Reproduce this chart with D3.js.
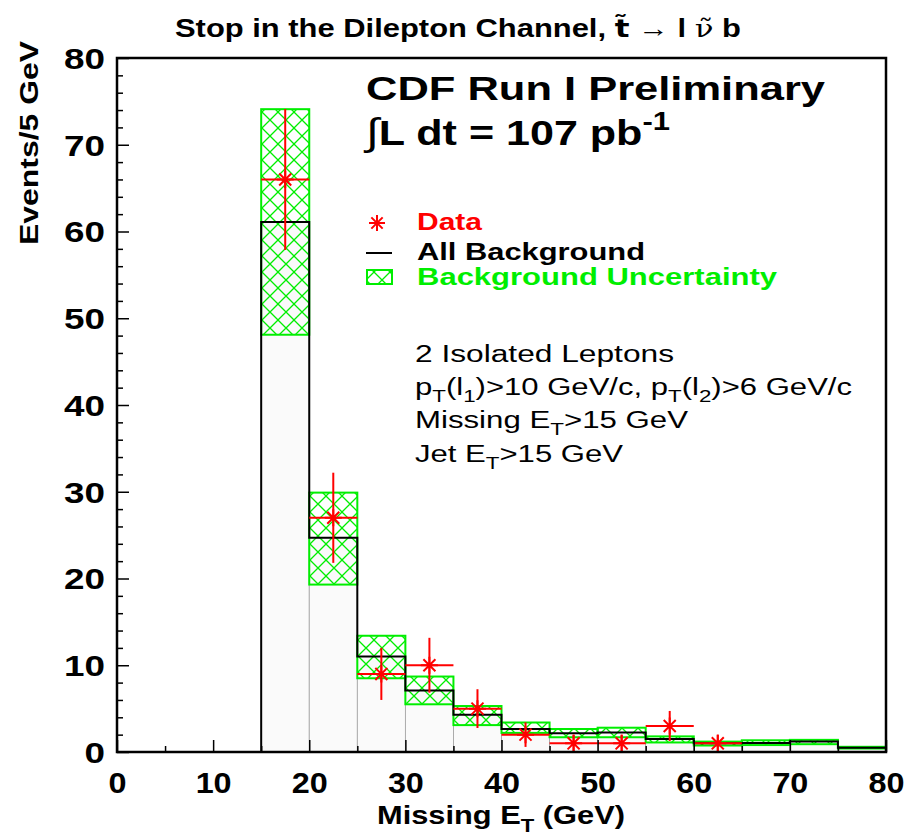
<!DOCTYPE html>
<html>
<head>
<meta charset="utf-8">
<script src="https://cdn.jsdelivr.net/npm/d3@7"></script>
<style>
  html, body { margin: 0; padding: 0; background: #fff; }
  svg { display: block; }
  text { font-family: "Liberation Sans", Arial, Helvetica, sans-serif; }
</style>
</head>
<body>
<svg id="chart" width="910" height="837"></svg>
<script>
// Missing E_T bins, 5 GeV wide, from 0 to 80 GeV
const binLow = [0, 5, 10, 15, 20, 25, 30, 35, 40, 45, 50, 55, 60, 65, 70, 75];
const binWidth = 5;
// Total expected background per bin
const background = [0, 0, 0, 61.1, 24.7, 11.0, 7.1, 4.3, 2.65, 2.15, 2.25, 1.5, 1.0, 1.05, 1.2, 0.5];
// Background uncertainty band (lower / upper edge)
const bandLow  = [0, 0, 0, 48.1, 19.3, 8.5, 5.5, 3.1, 2.2, 1.7, 1.7, 1.1, 0.75, 0.8, 0.9, 0.4];
const bandHigh = [0, 0, 0, 74.1, 29.9, 13.4, 8.7, 5.3, 3.4, 2.65, 2.8, 1.8, 1.2, 1.35, 1.4, 0.6];
// Observed events (null = not drawn)
const observed = [null, null, null, 66, 27, 9, 10, 5, 2, 1, 1, 3, 1, 0, 0, null];
// Axis ticks
const xMajorTicks = [0, 10, 20, 30, 40, 50, 60, 70, 80];
const xMinorTicks = [5, 15, 25, 35, 45, 55, 65, 75];
const yMajorTicks = [0, 10, 20, 30, 40, 50, 60, 70, 80];
const yMinorTicks = [2, 4, 6, 8, 12, 14, 16, 18, 22, 24, 26, 28, 32, 34, 36, 38, 42, 44, 46, 48, 52, 54, 56, 58, 62, 64, 66, 68, 72, 74, 76, 78];

const RED = "#ff0000", GREEN = "#00ee00", BLACK = "#000";

const svg = d3.select("#chart");
const plotL = 117, plotR = 886, plotT = 58, plotB = 752;
const x = d3.scaleLinear().domain([0, 80]).range([plotL, plotR]);
const y = d3.scaleLinear().domain([0, 80]).range([plotB, plotT]);

const defs = svg.append("defs");
const pat = defs.append("pattern")
  .attr("id", "hatch").attr("patternUnits", "userSpaceOnUse")
  .attr("width", 16).attr("height", 16).attr("x", plotL + 1).attr("y", 0);
pat.append("path").attr("d", "M0,0 L16,16 M0,16 L16,0 M-1,1 L1,-1 M15,17 L17,15 M-1,15 L1,17 M15,-1 L17,1")
  .attr("stroke", GREEN).attr("stroke-width", 1.3).attr("fill", "none");
defs.append("clipPath").attr("id", "plotclip")
  .append("rect").attr("x", plotL).attr("y", plotT).attr("width", plotR - plotL).attr("height", plotB - plotT);

// Rich text helper: segments with optional sub/sup, weight and font
function richText(parent, px, py, segs, opts) {
  const t = parent.append("text").attr("x", px).attr("y", py)
    .attr("font-size", opts.size).attr("font-weight", opts.weight || "normal")
    .attr("fill", opts.fill || BLACK);
  if (opts.anchor) t.attr("text-anchor", opts.anchor);
  if (opts.transform) t.attr("transform", opts.transform);
  let shift = 0;
  segs.forEach(s => {
    const sp = t.append("tspan").text(s.t);
    let target = 0;
    let fs = opts.size;
    if (s.sub) { target = opts.size * 0.32; fs = opts.size * 0.72; }
    if (s.sup) { target = -opts.size * 0.42; fs = opts.size * 0.72; }
    if (s.size) fs = s.size;
    sp.attr("font-size", fs);
    if (target - shift !== 0) sp.attr("dy", target - shift);
    shift = target;
    if (s.weight) sp.attr("font-weight", s.weight);
    if (s.family) sp.attr("font-family", s.family);
  });
  if (opts.width) t.attr("textLength", opts.width).attr("lengthAdjust", "spacingAndGlyphs");
  return t;
}

// Plot area
const plot = svg.append("g").attr("clip-path", "url(#plotclip)");

// Light fill under the background histogram
plot.selectAll("rect.fill").data(binLow.map((b, i) => ({ b, v: background[i] })).filter(d => d.v > 0))
  .enter().append("rect")
  .attr("x", d => x(d.b)).attr("width", d => x(d.b + binWidth) - x(d.b))
  .attr("y", d => y(d.v)).attr("height", d => y(0) - y(d.v))
  .attr("fill", "#fafafa").attr("stroke", "#a0a0a0").attr("stroke-width", 0.8);

// Uncertainty band
plot.selectAll("rect.band").data(binLow.map((b, i) => ({ b, lo: bandLow[i], hi: bandHigh[i] })).filter(d => d.hi > 0))
  .enter().append("rect")
  .attr("x", d => x(d.b)).attr("width", d => x(d.b + binWidth) - x(d.b))
  .attr("y", d => y(d.hi)).attr("height", d => Math.max(1, y(d.lo) - y(d.hi)))
  .attr("fill", "url(#hatch)").attr("stroke", GREEN).attr("stroke-width", 2);

// Background histogram outline
const stepPts = binLow.map((b, i) => [b, background[i]]).concat([[80, background[background.length - 1]]]);
plot.append("path")
  .attr("d", d3.line().x(d => x(d[0])).y(d => y(d[1])).curve(d3.curveStepAfter)(stepPts))
  .attr("fill", "none").attr("stroke", BLACK).attr("stroke-width", 2);

// Data points with errors
function star(g, cx, cy, r) {
  const a = r * Math.SQRT1_2;
  g.append("path")
    .attr("d", `M${cx - r},${cy}L${cx + r},${cy}M${cx},${cy - r}L${cx},${cy + r}M${cx - a},${cy - a}L${cx + a},${cy + a}M${cx - a},${cy + a}L${cx + a},${cy - a}`)
    .attr("stroke", RED).attr("stroke-width", 2).attr("fill", "none");
}
const dataG = plot.append("g");
binLow.forEach((b, i) => {
  const v = observed[i];
  if (v === null) return;
  const cx = x(b + binWidth / 2);
  dataG.append("line").attr("x1", x(b)).attr("x2", x(b + binWidth))
    .attr("y1", y(v)).attr("y2", y(v)).attr("stroke", RED).attr("stroke-width", 2);
  if (v > 0) {
    const e = Math.sqrt(v);
    dataG.append("line").attr("x1", cx).attr("x2", cx)
      .attr("y1", y(v + e)).attr("y2", y(Math.max(0, v - e))).attr("stroke", RED).attr("stroke-width", 2);
    star(dataG, cx, y(v), 8.5);
  }
});

// Axes
const yMajor = svg.append("g").attr("transform", `translate(${plotL},0)`)
  .call(d3.axisLeft(y).tickValues(yMajorTicks).tickSizeInner(-12).tickSizeOuter(0).tickPadding(12).tickFormat(d3.format("d")));
const yMinor = svg.append("g").attr("transform", `translate(${plotL},0)`)
  .call(d3.axisLeft(y).tickValues(yMinorTicks).tickSizeInner(-6).tickSizeOuter(0).tickFormat(""));
const xMajor = svg.append("g").attr("transform", `translate(0,${plotB})`)
  .call(d3.axisBottom(x).tickValues(xMajorTicks).tickSizeInner(-12).tickSizeOuter(0).tickFormat(d3.format("d")));
const xMinor = svg.append("g").attr("transform", `translate(0,${plotB})`)
  .call(d3.axisBottom(x).tickValues(xMinorTicks).tickSizeInner(-6).tickSizeOuter(0).tickFormat(""));
[yMajor, yMinor, xMajor, xMinor].forEach(g => {
  g.select(".domain").remove();
  g.selectAll(".tick line").attr("stroke", BLACK).attr("stroke-width", 1.5);
});
yMajor.selectAll("text")
  .attr("font-family", "Liberation Sans, Arial, sans-serif")
  .attr("font-size", 29).attr("font-weight", "bold").attr("fill", BLACK)
  .attr("dy", "0.36em")
  .each(function (d) { d3.select(this).attr("textLength", String(d).length * 20.5).attr("lengthAdjust", "spacingAndGlyphs"); });
xMajor.selectAll("text")
  .attr("font-family", "Liberation Sans, Arial, sans-serif")
  .attr("font-size", 30).attr("font-weight", "bold").attr("fill", BLACK)
  .attr("y", 41).attr("dy", 0)
  .each(function (d) { d3.select(this).attr("textLength", String(d).length * 18).attr("lengthAdjust", "spacingAndGlyphs"); });

// Frame
svg.append("rect").attr("x", plotL).attr("y", plotT).attr("width", plotR - plotL).attr("height", plotB - plotT)
  .attr("fill", "none").attr("stroke", BLACK).attr("stroke-width", 2.5);

// Title
richText(svg, 175, 37, [
  { t: "Stop in the Dilepton Channel, " },
  { t: "t\u0303", weight: "bold", family: "DejaVu Sans" },
  { t: " \u2192 ", weight: "normal" },
  { t: "l ", weight: "bold" },
  { t: "\u03bd\u0303", weight: "normal", family: "DejaVu Serif" },
  { t: " b", weight: "bold" }
], { size: 25, weight: "bold", width: 566 });

// Axis titles
richText(svg, 377, 824, [
  { t: "Missing E" }, { t: "T", sub: true }, { t: " (GeV)" }
], { size: 26, weight: "bold", width: 248 });
richText(svg, 0, 0, [{ t: "Events/5 GeV" }],
  { size: 26, weight: "bold", anchor: "middle", transform: "translate(38,143) rotate(-90)", width: 204 });

// Experiment label
richText(svg, 366, 100, [{ t: "CDF Run I Preliminary" }], { size: 34, weight: "bold", width: 459 });
richText(svg, 366, 145, [
  { t: "\u222b", weight: "normal", size: 38 }, { t: "L dt = 107 pb" }, { t: "-1", sup: true }
], { size: 35, weight: "bold", width: 304 });

// Legend
star(svg, 377, 223, 8);
richText(svg, 417, 230, [{ t: "Data" }], { size: 24, weight: "bold", fill: RED, width: 65 });
svg.append("line").attr("x1", 366).attr("x2", 392).attr("y1", 253).attr("y2", 253)
  .attr("stroke", BLACK).attr("stroke-width", 2);
richText(svg, 417, 260, [{ t: "All Background" }], { size: 23, weight: "bold", width: 228 });
svg.append("rect").attr("x", 367).attr("y", 270).attr("width", 25).attr("height", 14)
  .attr("fill", "url(#hatch)").attr("stroke", GREEN).attr("stroke-width", 2);
richText(svg, 417, 285, [{ t: "Background Uncertainty" }], { size: 23, weight: "bold", fill: GREEN, width: 360 });

// Selection cuts
richText(svg, 415, 362, [{ t: "2 Isolated Leptons" }], { size: 23, width: 259 });
richText(svg, 415, 395, [
  { t: "p" }, { t: "T", sub: true }, { t: "(l" }, { t: "1", sub: true }, { t: ")>10 GeV/c, p" },
  { t: "T", sub: true }, { t: "(l" }, { t: "2", sub: true }, { t: ")>6 GeV/c" }
], { size: 23, width: 437 });
richText(svg, 415, 428, [{ t: "Missing E" }, { t: "T", sub: true }, { t: ">15 GeV" }], { size: 23, width: 273 });
richText(svg, 415, 462, [{ t: "Jet E" }, { t: "T", sub: true }, { t: ">15 GeV" }], { size: 23, width: 208 });
</script>
</body>
</html>
